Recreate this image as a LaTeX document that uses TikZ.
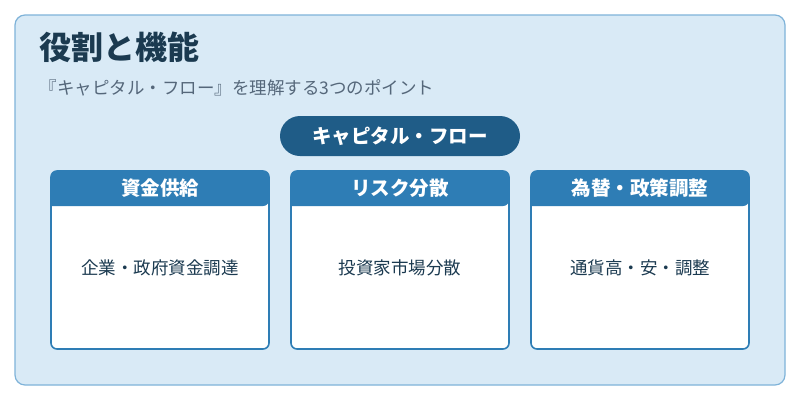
\documentclass[tikz,border=0pt]{standalone}
\usepackage{fontspec}
\setmainfont{Noto Sans CJK JP}
\usetikzlibrary{positioning}
\definecolor{bgblue}{HTML}{D9EAF6}
\definecolor{edgeblue}{HTML}{7FB3D9}
\definecolor{pillblue}{HTML}{1F5C87}
\definecolor{headblue}{HTML}{2E7DB5}
\definecolor{titletext}{HTML}{1B3A50}
\definecolor{subtext}{HTML}{55677A}
\tikzset{
  card/.style={draw=headblue, line width=1.6pt, fill=white, rounded corners=6pt,
    minimum width=218pt, minimum height=178pt, inner sep=0pt},
  head/.style={fill=headblue},
  headtext/.style={text=white, font=\bfseries\fontsize{19.5}{22}\selectfont},
  bodytext/.style={text=titletext, font=\fontsize{17.5}{20}\selectfont},
}
\begin{document}
\begin{tikzpicture}[x=1pt,y=-1pt]
        \useasboundingbox (0,0) rectangle (800,400);
        \fill[white] (0,0) rectangle (800,400);
        % frame
        \draw[fill=bgblue, draw=edgeblue, line width=1.2pt, rounded corners=10pt] (15,15) rectangle (785,385);
        \node[anchor=west, text=titletext, font=\bfseries\fontsize{32}{36}\selectfont] (title) at (36,47) {役割と機能};
        \node[anchor=west, text=subtext, font=\fontsize{17.5}{20}\selectfont] (sub) at (36,88) {『キャピタル・フロー』を理解する3つのポイント};
        % pill
        \node[fill=pillblue, rounded corners=20pt, minimum width=240pt, minimum height=40pt,
              text=white, font=\bfseries\fontsize{19.5}{22}\selectfont] (pill) at (400,136) {キャピタル・フロー};
        % cards
        \foreach \n/\cx/\h/\b in {a/160/資金供給/企業・政府資金調達, b/400/リスク分散/投資家市場分散, c/640/為替・政策調整/通貨高・安・調整} {
          \node[card] (card\n) at (\cx,260) {};
          \fill[head] (\cx-109,206) [rounded corners=6pt] |- (\cx,171) -| (\cx+109,206) [sharp corners] -- cycle;
          \node[headtext] (head\n) at (\cx,188) {\h};
          \node[bodytext] (body\n) at (\cx,268) {\b};
        }
\end{tikzpicture}
\end{document}
